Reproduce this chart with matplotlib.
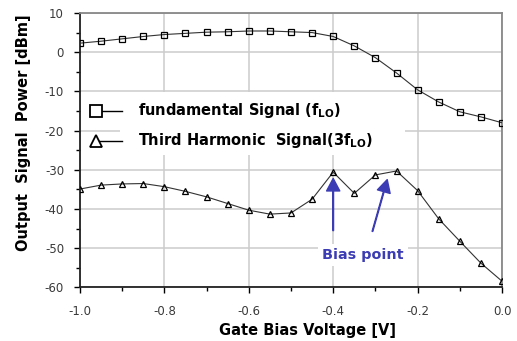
import numpy as np
import matplotlib
matplotlib.use("Agg")
import matplotlib.pyplot as plt
from matplotlib.ticker import MultipleLocator

plt.rcParams.update({"font.family": "DejaVu Sans", "mathtext.default": "regular"})

# gate bias sweep [V]
gate_bias = [-1.0, -0.95, -0.9, -0.85, -0.8, -0.75, -0.7, -0.65, -0.6, -0.55, -0.5,
             -0.45, -0.4, -0.35, -0.3, -0.25, -0.2, -0.15, -0.1, -0.05, 0.0]
# fundamental output (f_LO) [dBm]
fundamental = [2.3, 2.8, 3.4, 4.0, 4.5, 4.8, 5.1, 5.2, 5.4, 5.4, 5.2,
               5.0, 4.0, 1.6, -1.4, -5.3, -9.6, -12.7, -15.2, -16.5, -18.0]
# third harmonic output (3f_LO) [dBm]
third_harm = [-34.9, -33.9, -33.6, -33.5, -34.3, -35.5, -36.9, -38.6, -40.3, -41.3, -41.0,
              -37.5, -30.6, -36.0, -31.3, -30.3, -35.3, -42.5, -48.2, -53.8, -58.4]

# bias point arrows: (tail x, tail y, tip x, tip y)
bias_arrows = [(-0.40, -45.5, -0.40, -32.2), (-0.307, -45.7, -0.272, -32.5)]

BLUE = "#3c3cb4"

fig = plt.figure(figsize=(5.17, 3.41), dpi=100)
ax = fig.add_axes([0.1547, 0.157, 0.8163, 0.805])

ax.plot(gate_bias, fundamental, color="#333333", lw=0.8, marker="s", ms=4.5,
        mfc="none", mec="black", mew=0.9, zorder=3)
ax.plot(gate_bias, third_harm, color="#333333", lw=0.8, marker="^", ms=5,
        mfc="none", mec="black", mew=0.9, zorder=3)

ax.set_xlim(-1.0, 0.0)
ax.set_ylim(-60, 10)
ax.xaxis.set_major_locator(MultipleLocator(0.2))
ax.xaxis.set_minor_locator(MultipleLocator(0.1))
ax.yaxis.set_major_locator(MultipleLocator(10))
ax.yaxis.set_minor_locator(MultipleLocator(5))
ax.set_xticklabels([f"{v:.1f}" for v in ax.get_xticks()])
ax.set_yticklabels([f"{v:.0f}" for v in ax.get_yticks()])
ax.tick_params(which="major", direction="out", length=4.5, width=1, labelsize=8.5,
               labelcolor="#3a3a3a")
ax.tick_params(axis="x", which="major", pad=8)
ax.tick_params(axis="y", which="major", pad=7)
ax.tick_params(which="minor", direction="out", length=3, width=1)
ax.grid(True, which="major", color="#cccccc", lw=1.1)
ax.set_axisbelow(True)
for side in ("left", "bottom"):
    ax.spines[side].set_color("#222222")
    ax.spines[side].set_linewidth(1.3)
for side in ("top", "right"):
    ax.spines[side].set_color("#888888")
    ax.spines[side].set_linewidth(1.3)

ax.set_xlabel("Gate Bias Voltage [V]", fontsize=10.5, fontweight="bold", labelpad=4,
              x=0.54)
ax.set_ylabel("Output  Signal  Power [dBm]", fontsize=10.5, fontweight="bold",
              labelpad=10, y=0.565)

# legend drawn by hand: marker first, then a short line, text on white
ax.add_patch(plt.Rectangle((-0.905, -18.8), 0.535, 8.7, facecolor="white",
                           edgecolor="none", zorder=2))
ax.add_patch(plt.Rectangle((-0.905, -26.1), 0.675, 7.5, facecolor="white",
                           edgecolor="none", zorder=2))
for ypos, mk, label in [(-15.0, "s", r"fundamental Signal (f$_{LO}$)"),
                        (-22.6, "^", r"Third Harmonic  Signal(3f$_{LO}$)")]:
    ax.plot([-0.962, -0.9], [ypos, ypos], color="black", lw=1, zorder=4)
    ax.plot([-0.962], [ypos], marker=mk, ms=8.5, mfc="white", mec="black", mew=1.3,
            zorder=5)
    ax.text(-0.863, ypos, label, fontsize=10.5, fontweight="bold",
            va="center", ha="left", zorder=5)

for x0, y0, x1, y1 in bias_arrows:
    ax.annotate("", xy=(x1, y1), xytext=(x0, y0),
                arrowprops=dict(color=BLUE, width=0.5, headwidth=9.5, headlength=9,
                                shrink=0), zorder=6)
ax.text(-0.33, -51.7, "Bias point", color=BLUE, fontsize=10.4, fontweight="bold",
        ha="center", va="center", zorder=6,
        bbox=dict(facecolor="white", edgecolor="none", pad=3))

fig.savefig("out.png", dpi=100)
